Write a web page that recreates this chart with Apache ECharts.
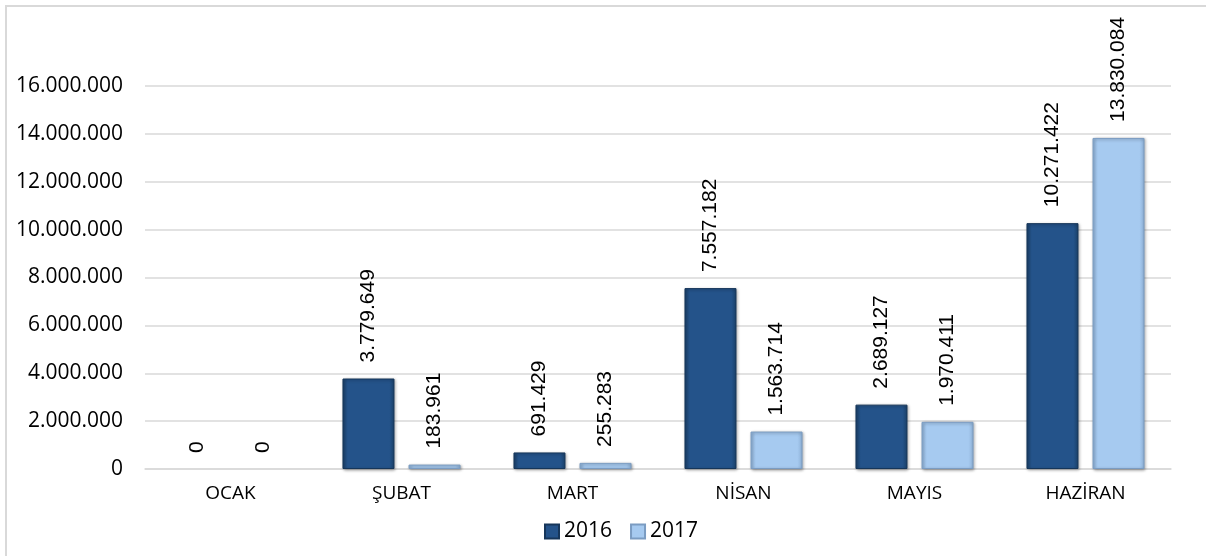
<!DOCTYPE html>
<html>
<head>
<meta charset="utf-8">
<title>2016 - 2017</title>
<script src="https://cdn.jsdelivr.net/npm/echarts@6/dist/echarts.min.js"></script>
<style>
  html, body { margin: 0; padding: 0; background: #fff; }
  #chart { width: 1206px; height: 556px; }
</style>
</head>
<body>
<div id="chart"></div>
<script>
// aylar (x ekseni)
var months = ['OCAK', 'ŞUBAT', 'MART', 'NİSAN', 'MAYIS', 'HAZİRAN'];
// seriler
var years = ['2016', '2017'];
var values2016 = [0, 3779649, 691429, 7557182, 2689127, 10271422];
var values2017 = [0, 183961, 255283, 1563714, 1970411, 13830084];
// y ekseni
var yMin = 0;
var yMax = 16000000;
var yStep = 2000000;

// 1.234.567 seklinde yaz
function fmt(v) {
  return String(v).replace(/\B(?=(\d{3})+(?!\d))/g, '.');
}

// sifir degerlerde cubuk cizgisi gorunmesin (etiket kalsin)
function toData(arr) {
  return arr.map(function (v) {
    if (v === 0) {
      return {
        value: v,
        itemStyle: { color: 'rgba(0,0,0,0)', borderWidth: 0, shadowBlur: 0, shadowOffsetX: 0, shadowOffsetY: 0 }
      };
    }
    return v;
  });
}

(function () {
  var myChart = echarts.init(document.getElementById('chart'));

  var labelStyle = {
    show: true,
    position: 'top',
    rotate: 90,
    align: 'left',
    verticalAlign: 'middle',
    distance: 16,
    color: '#000',
    fontFamily: 'Liberation Sans',
    fontSize: 21,
    formatter: function (p) { return fmt(p.value); }
  };

  var option = {
    backgroundColor: '#fff',
    animation: false,
    // dis cerceve
    graphic: [{
      type: 'rect',
      shape: { x: 6, y: 6, width: 1220, height: 570 },
      style: { fill: 'none', stroke: '#d9d9d9', lineWidth: 2 },
      silent: true
    }],
    grid: { left: 145, right: 35, top: 86, bottom: 87 },
    legend: {
      data: years,
      left: 539,
      top: 516,
      itemWidth: 14,
      itemHeight: 14,
      itemGap: 18,
      icon: 'rect',
      textStyle: { fontFamily: 'Open Sans', fontSize: 21, color: '#000', padding: [0, 0, 0, 0] }
    },
    xAxis: {
      type: 'category',
      data: months,
      axisLine: { lineStyle: { color: '#d9d9d9', width: 1.5 } },
      axisTick: { show: false },
      axisLabel: { color: '#000', fontFamily: 'Open Sans', fontSize: 19, margin: 15 }
    },
    yAxis: {
      type: 'value',
      min: yMin,
      max: yMax,
      interval: yStep,
      axisLine: { show: false },
      axisTick: { show: false },
      splitLine: { lineStyle: { color: '#d9d9d9', width: 1.5 } },
      axisLabel: {
        color: '#000',
        fontFamily: 'Open Sans',
        fontSize: 21,
        margin: 22,
        formatter: function (v) { return fmt(v); }
      }
    },
    series: [
      {
        name: years[0],
        type: 'bar',
        data: toData(values2016),
        barWidth: 52,
        barGap: '27%',
        itemStyle: {
          color: {
            type: 'linear', x: 0, y: 0, x2: 1, y2: 0,
            colorStops: [
              { offset: 0, color: '#1b426b' },
              { offset: 0.1, color: '#24538a' },
              { offset: 0.9, color: '#24538a' },
              { offset: 1, color: '#1b426b' }
            ]
          },
          borderColor: '#16365a',
          borderWidth: 1,
          shadowColor: 'rgba(0,0,0,0.35)',
          shadowBlur: 3,
          shadowOffsetX: 1,
          shadowOffsetY: 1
        },
        label: labelStyle
      },
      {
        name: years[1],
        type: 'bar',
        data: toData(values2017),
        barWidth: 52,
        itemStyle: {
          color: {
            type: 'linear', x: 0, y: 0, x2: 1, y2: 0,
            colorStops: [
              { offset: 0, color: '#8fb2d8' },
              { offset: 0.1, color: '#a6caf0' },
              { offset: 0.9, color: '#a6caf0' },
              { offset: 1, color: '#8fb2d8' }
            ]
          },
          borderColor: '#7b9cc2',
          borderWidth: 1,
          shadowColor: 'rgba(0,0,0,0.35)',
          shadowBlur: 3,
          shadowOffsetX: 1,
          shadowOffsetY: 1
        },
        label: labelStyle
      }
    ]
  };

  myChart.setOption(option);
})();
</script>
</body>
</html>
